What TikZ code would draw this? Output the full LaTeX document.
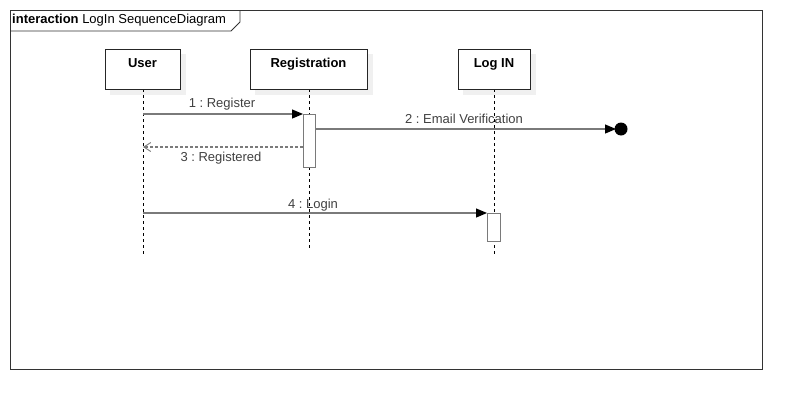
\documentclass[tikz,border=0pt]{standalone}
\usepackage{fontspec}
\setmainfont{Liberation Sans}
\usetikzlibrary{arrows.meta}
\definecolor{linegray}{HTML}{7A7A7A}
\definecolor{txtgray}{HTML}{404040}
\definecolor{shadowgray}{HTML}{F0F0F0}
\frenchspacing
\begin{document}
\begin{tikzpicture}[x=1pt,y=-1pt,
  every node/.style={font=\fontsize{13}{15}\selectfont, inner sep=0pt},
  lifebox/.style={draw=black!85, line width=0.9pt, fill=white, minimum height=40pt},
  lifeline/.style={draw=black, line width=0.8pt, dash pattern=on 3pt off 3pt},
  actbox/.style={draw=linegray, line width=1pt, fill=white},
  msg/.style={draw=linegray, line width=1.2pt, -{Triangle[length=11pt,width=9pt,fill=black,color=black]}},
  retmsg/.style={draw=linegray, line width=1.2pt, dash pattern=on 3pt off 2pt, -{Straight Barb[length=7pt,width=9pt,line width=0.9pt]}},
  lbl/.style={text=txtgray},
  boxlbl/.style={anchor=base, font=\fontsize{13}{15}\selectfont\bfseries}
]
\useasboundingbox (0,0) rectangle (802,410);
% frame
\draw[draw=black!80, line width=0.8pt] (10,10) rectangle (762,369);
\draw[draw=black!80, line width=0.8pt] (10,31) -- (231,31) -- (240,22) -- (240,10);
\node[anchor=west] (title) at (12,20.5) {\textbf{interaction} LogIn SequenceDiagram};
% shadows
\fill[shadowgray] (110,54) rectangle (186,95);
\fill[shadowgray] (255,54) rectangle (373,95);
\fill[shadowgray] (463,54) rectangle (536,95);
% lifelines
\coordinate (uTop) at (143,89); \coordinate (uBot) at (143,255);
\coordinate (rTop) at (309,89); \coordinate (rBot) at (309,248);
\coordinate (lTop) at (494,89); \coordinate (lBot) at (494,255);
\draw[lifeline] (uTop) -- (uBot);
\draw[lifeline] (rTop) -- (rBot);
\draw[lifeline] (lTop) -- (lBot);
% boxes
\node[lifebox, minimum width=75pt, anchor=north west] (user) at (105,49) {};
\node[boxlbl] (userlbl) at (142.5,67) {User};
\node[lifebox, minimum width=117pt, anchor=north west] (reg) at (250,49) {};
\node[boxlbl] (reglbl) at (308.5,67) {Registration};
\node[lifebox, minimum width=72pt, anchor=north west] (login) at (458,49) {};
\node[boxlbl] (loginlbl) at (494,67) {Log IN};
% activations
\node[actbox, minimum width=12pt, minimum height=53pt, anchor=north west] (actR) at (303,114) {};
\node[actbox, minimum width=13pt, minimum height=28pt, anchor=north west] (actL) at (487,213) {};
% messages
\coordinate (m1s) at (143,114);
\draw[msg] (m1s) -- (actR.north west);
\node[lbl, anchor=base] (l1) at (222,107.5) {1 : Register};
\coordinate (m2s) at (315,129);
\coordinate (lost) at (621,129);
\draw[msg, shorten >=5pt] (m2s) -- (lost);
\fill[black] (lost) circle (6.5pt);
\node[lbl, anchor=base] (l2) at (464,123.5) {2 : Email Verification};
\coordinate (m3s) at (303,147);
\coordinate (m3e) at (143,147);
\draw[retmsg] (m3s) -- (m3e);
\node[lbl, anchor=base] (l3) at (221,161) {3 : Registered};
\coordinate (m4s) at (143,213);
\draw[msg] (m4s) -- (actL.north west);
\node[lbl, anchor=base] (l4) at (313,208) {4 : Login};
\end{tikzpicture}
\end{document}
